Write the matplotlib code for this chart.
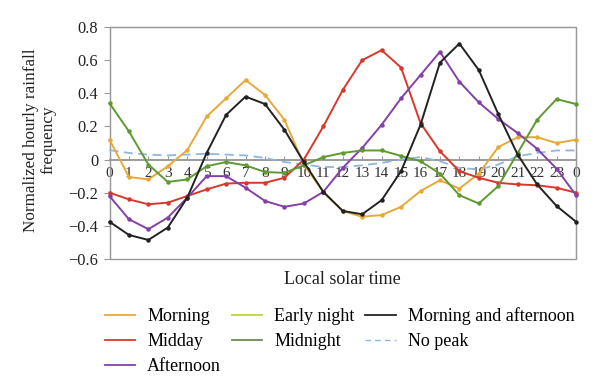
import matplotlib
matplotlib.use("Agg")
import matplotlib.pyplot as plt
from matplotlib.lines import Line2D
from matplotlib.patches import Rectangle

hours = list(range(25))
hour_labels = [str(h) for h in range(24)] + ["0"]

morning = [0.12, -0.105, -0.12, -0.04, 0.057, 0.26, 0.37, 0.48, 0.39, 0.24,
           -0.03, -0.195, -0.31, -0.345, -0.335, -0.285, -0.19, -0.125, -0.175, -0.085,
           0.075, 0.135, 0.135, 0.10, 0.12]
midday = [-0.20, -0.24, -0.27, -0.26, -0.22, -0.18, -0.145, -0.14, -0.14, -0.11,
          0.0, 0.20, 0.42, 0.60, 0.66, 0.555, 0.22, 0.05, -0.07, -0.11,
          -0.14, -0.15, -0.155, -0.17, -0.20]
afternoon = [-0.22, -0.36, -0.42, -0.35, -0.23, -0.10, -0.10, -0.17, -0.25, -0.285,
             -0.265, -0.195, -0.05, 0.07, 0.21, 0.37, 0.51, 0.65, 0.47, 0.345,
             0.245, 0.16, 0.065, -0.055, -0.215]
midnight = [0.34, 0.17, -0.03, -0.135, -0.12, -0.04, -0.015, -0.035, -0.075, -0.08,
            -0.035, 0.015, 0.04, 0.055, 0.055, 0.022, -0.01, -0.085, -0.215, -0.265,
            -0.16, 0.04, 0.24, 0.365, 0.335]
morn_aft = [-0.375, -0.455, -0.485, -0.41, -0.23, 0.04, 0.27, 0.38, 0.335, 0.18,
            -0.015, -0.195, -0.31, -0.33, -0.245, -0.07, 0.21, 0.585, 0.70, 0.54,
            0.275, 0.03, -0.15, -0.28, -0.375]
no_peak = [0.057, 0.04, 0.03, 0.025, 0.03, 0.035, 0.03, 0.025, 0.01, -0.015,
           -0.03, -0.045, -0.045, -0.035, -0.02, 0.0, 0.015, -0.01, -0.05, -0.06,
           -0.03, 0.02, 0.04, 0.055, 0.055]

c_morning = "#E6A93A"
c_midday = "#D8382B"
c_afternoon = "#8540A8"
c_early = "#BCD640"
c_midnight = "#5E9A30"
c_black = "#222222"
c_nopeak = "#8DB6E3"

plt.rcParams['font.family'] = ['Liberation Serif', 'DejaVu Serif']

fig = plt.figure(figsize=(6.0, 3.92), dpi=100)
ax = fig.add_axes([109.5/600, 1-259/392, (576-109.5)/600, (259-27)/392])

series = [
    (morning, c_morning),
    (midday, c_midday),
    (afternoon, c_afternoon),
    (midnight, c_midnight),
    (morn_aft, c_black),
]
for vals, col in series:
    ax.plot(hours, vals, color=col, lw=1.4, marker="o", ms=2.2,
            clip_on=False, zorder=3)
ax.plot(hours, no_peak, color=c_nopeak, lw=1.3, ls=(0, (5, 3)), zorder=2.8,
        clip_on=False)

ax.set_xlim(0, 24)
ax.set_ylim(-0.6, 0.8)
ax.set_yticks([-0.6, -0.4, -0.2, 0, 0.2, 0.4, 0.6, 0.8])
ax.set_yticklabels(["\u22120.6", "\u22120.4", "\u22120.2", "0", "0.2", "0.4", "0.6", "0.8"])
ax.set_xticks(hours)
ax.set_xticklabels(hour_labels)

for s in ["top", "right", "left"]:
    ax.spines[s].set_color("#999999")
ax.spines["bottom"].set_position(("data", 0))
ax.spines["bottom"].set_color("#8a8a8a")
ax.spines["bottom"].set_linewidth(1.2)
ax.spines["bottom"].set_zorder(1)
ax.add_patch(Rectangle((0, 0), 1, 1, transform=ax.transAxes, fill=False,
                       ec="#999999", lw=1.0, clip_on=False, zorder=1))

ax.tick_params(axis="y", direction="out", length=4, color="#999999",
               labelsize=11.8, pad=4, labelcolor="#222222")
ax.tick_params(axis="x", direction="in", length=3, color="#999999",
               labelsize=11, pad=5, labelcolor="#333333")

fig.text(0.5*(109.5+576)/600, 1-280/392, "Local solar time", ha="center",
         va="center", fontsize=13, color="#222222")
fig.text(40/600, 1-140/392, "Normalized hourly rainfall\nfrequency", ha="center",
         va="center", rotation=90, fontsize=12.3, color="#222222", linespacing=1.15)

handles = [
    Line2D([], [], color=c_morning, lw=1.3),
    Line2D([], [], color=c_midday, lw=1.3),
    Line2D([], [], color=c_afternoon, lw=1.3),
    Line2D([], [], color=c_early, lw=1.3),
    Line2D([], [], color="#6E8A55", lw=1.3),
    Line2D([], [], color=c_black, lw=1.3),
    Line2D([], [], color=c_nopeak, lw=1.0, ls=(0, (4, 3))),
]
labels = ["Morning", "Midday", "Afternoon", "Early night", "Midnight",
          "Morning and afternoon", "No peak"]
fig.legend(handles, labels, ncol=3, loc="upper left",
           bbox_to_anchor=(105/600, 1-307/392), frameon=False, fontsize=13,
           handlelength=1.67, handletextpad=0.67, columnspacing=0.6,
           labelspacing=0.45, borderpad=0, borderaxespad=0)

fig.savefig("out.png", dpi=100)
